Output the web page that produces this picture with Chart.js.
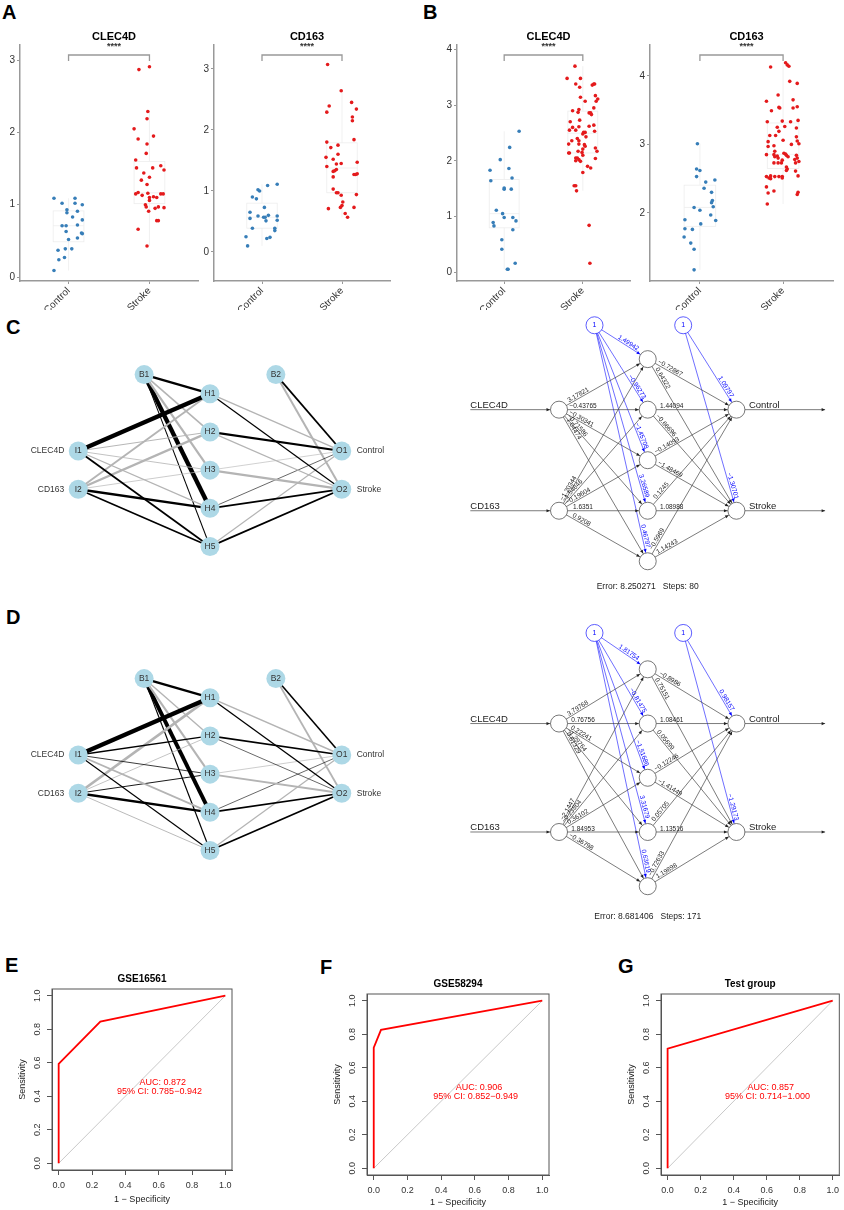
<!DOCTYPE html>
<html>
<head>
<meta charset="utf-8">
<script src="https://cdn.jsdelivr.net/npm/chart.js@4.4.0/dist/chart.umd.min.js"></script>
<style>
  body { margin: 0; background: #fff; width: 844px; height: 1210px; position: relative; overflow: hidden; font-family: "Liberation Sans", Arial, sans-serif; }
  canvas { position: absolute; }
  .tag { position: absolute; font-weight: bold; font-size: 20px; line-height: 20px; color: #000; }
</style>
</head>
<body>
<div class="tag" style="left:2px;top:2px">A</div>
<div class="tag" style="left:423px;top:2px">B</div>
<div class="tag" style="left:6px;top:317px">C</div>
<div class="tag" style="left:6px;top:607px">D</div>
<div class="tag" style="left:5px;top:955px">E</div>
<div class="tag" style="left:320px;top:957px">F</div>
<div class="tag" style="left:618px;top:956px">G</div>

<canvas id="a1" width="205" height="290" style="left:0;top:20px"></canvas>
<canvas id="a2" width="200" height="290" style="left:200px;top:20px"></canvas>
<canvas id="b1" width="200" height="290" style="left:440px;top:20px"></canvas>
<canvas id="b2" width="208" height="290" style="left:636px;top:20px"></canvas>
<canvas id="cNet" width="420" height="240" style="left:0;top:340px"></canvas>
<canvas id="cNn" width="404" height="310" style="left:440px;top:300px"></canvas>
<canvas id="dNet" width="420" height="240" style="left:0;top:644px"></canvas>
<canvas id="dNn" width="404" height="330" style="left:440px;top:610px"></canvas>
<canvas id="rocE" width="240" height="240" style="left:0;top:970px"></canvas>
<canvas id="rocF" width="242" height="235" style="left:315px;top:975px"></canvas>
<canvas id="rocG" width="235" height="235" style="left:609px;top:975px"></canvas>

<script>
// ---- expression strip plots: [x jitter, value] ----
const GROUPS = ['Control', 'Stroke'];
const GROUP_COLORS = ['#377eb8', '#e41a1c'];

const A_CLEC4D_CONTROL = [[-0.18,1.09],[-0.08,1.02],[-0.02,0.93],[-0.02,0.89],[0.08,1.09],[0.08,1.02],[0.17,1.00],[0.11,0.91],[0.05,0.83],[-0.08,0.71],[-0.03,0.71],[0.17,0.79],[0.11,0.72],[-0.03,0.63],[0.16,0.61],[0.17,0.60],[0.00,0.52],[0.11,0.54],[-0.04,0.39],[0.04,0.39],[-0.13,0.37],[-0.05,0.27],[-0.12,0.24],[-0.18,0.09]];
const A_CLEC4D_STROKE = [[-0.13,2.87],[0.00,2.91],[-0.02,2.29],[-0.03,2.19],[-0.19,2.05],[-0.14,1.91],[0.05,1.95],[-0.03,1.84],[-0.04,1.71],[-0.17,1.62],[-0.16,1.51],[0.04,1.51],[0.14,1.54],[0.18,1.48],[-0.07,1.44],[0.00,1.38],[-0.10,1.34],[-0.03,1.28],[-0.14,1.17],[-0.17,1.15],[-0.09,1.13],[-0.02,1.16],[0.05,1.11],[0.00,1.10],[0.09,1.10],[0.14,1.15],[0.17,1.15],[0.00,1.06],[-0.05,1.00],[-0.04,0.97],[-0.01,0.91],[0.07,0.95],[0.11,0.97],[0.18,0.96],[0.09,0.78],[0.11,0.78],[-0.14,0.66],[-0.03,0.43]];
const A_CD163_CONTROL = [[-0.05,1.02],[-0.03,1.00],[0.07,1.09],[0.19,1.11],[-0.12,0.90],[-0.07,0.87],[0.03,0.73],[-0.15,0.65],[-0.05,0.59],[0.02,0.57],[0.04,0.57],[0.08,0.60],[-0.15,0.55],[0.05,0.51],[0.19,0.59],[0.19,0.52],[-0.12,0.39],[0.16,0.39],[0.16,0.35],[-0.20,0.25],[0.06,0.22],[0.10,0.24],[-0.18,0.10]];
const A_CD163_STROKE = [[-0.18,3.07],[-0.01,2.64],[-0.16,2.39],[-0.19,2.29],[0.12,2.45],[0.18,2.34],[0.13,2.21],[0.13,2.15],[0.15,1.84],[-0.19,1.80],[-0.05,1.75],[-0.14,1.71],[-0.05,1.60],[-0.20,1.55],[-0.11,1.52],[-0.01,1.45],[-0.07,1.44],[-0.19,1.40],[0.19,1.47],[-0.07,1.35],[-0.09,1.33],[-0.11,1.32],[-0.11,1.23],[0.15,1.27],[0.17,1.27],[0.19,1.28],[-0.11,1.03],[-0.07,0.97],[-0.05,0.97],[-0.01,0.93],[0.18,0.94],[0.01,0.82],[-0.17,0.71],[-0.02,0.73],[0.00,0.76],[0.15,0.73],[0.04,0.63],[0.07,0.57]];
const B_CLEC4D_CONTROL = [[0.19,2.53],[-0.05,2.02],[0.07,2.24],[0.06,1.86],[-0.18,1.83],[0.10,1.69],[-0.17,1.64],[0.00,1.51],[0.00,1.49],[0.09,1.49],[-0.10,1.11],[-0.02,1.05],[-0.14,0.89],[-0.13,0.83],[0.00,0.98],[0.11,0.98],[0.15,0.92],[0.11,0.76],[-0.03,0.58],[-0.03,0.41],[0.14,0.16],[0.04,0.05],[0.05,0.05]];
const B_CLEC4D_STROKE = [[-0.10,3.70],[-0.20,3.48],[-0.03,3.48],[-0.09,3.38],[-0.04,3.32],[0.14,3.38],[0.15,3.38],[0.12,3.36],[0.16,3.17],[0.19,3.11],[0.17,3.07],[-0.03,3.14],[0.03,3.07],[0.14,2.95],[-0.13,2.90],[-0.05,2.92],[-0.06,2.87],[0.08,2.86],[0.11,2.83],[0.10,2.86],[-0.16,2.70],[-0.13,2.60],[-0.04,2.73],[-0.17,2.55],[-0.05,2.61],[-0.09,2.55],[0.08,2.62],[0.14,2.64],[0.01,2.51],[0.03,2.51],[0.00,2.48],[0.04,2.43],[0.15,2.53],[-0.07,2.40],[-0.14,2.36],[-0.05,2.36],[-0.18,2.30],[-0.05,2.30],[0.02,2.29],[0.03,2.26],[0.00,2.21],[0.16,2.23],[-0.01,2.15],[-0.06,2.17],[-0.18,2.14],[-0.17,2.14],[0.18,2.17],[-0.09,2.05],[-0.07,2.05],[0.00,2.10],[-0.05,2.02],[-0.09,2.00],[-0.03,1.99],[0.16,2.04],[0.06,1.90],[0.10,1.87],[0.00,1.79],[-0.11,1.55],[-0.09,1.55],[-0.08,1.46],[0.08,0.84],[0.09,0.16]];
const B_CD163_CONTROL = [[-0.03,3.01],[-0.04,2.64],[0.00,2.62],[-0.04,2.53],[0.18,2.48],[0.07,2.45],[0.05,2.36],[0.14,2.30],[0.15,2.18],[0.14,2.15],[-0.07,2.08],[0.16,2.09],[0.00,2.04],[-0.18,1.90],[0.19,1.89],[0.13,1.97],[0.01,1.84],[-0.18,1.77],[-0.09,1.76],[-0.11,1.56],[-0.19,1.65],[-0.07,1.47],[-0.07,1.17]];
const B_CD163_STROKE = [[0.03,4.19],[0.05,4.16],[0.07,4.14],[-0.15,4.13],[0.08,3.92],[0.17,3.89],[-0.06,3.72],[-0.20,3.63],[0.12,3.65],[-0.14,3.49],[-0.05,3.54],[-0.04,3.53],[0.12,3.53],[0.17,3.55],[-0.19,3.33],[-0.01,3.34],[0.09,3.33],[0.18,3.35],[-0.07,3.25],[0.02,3.26],[-0.05,3.19],[0.16,3.24],[-0.16,3.13],[-0.09,3.13],[0.16,3.11],[0.17,3.05],[0.19,3.01],[-0.18,3.04],[0.00,3.06],[-0.11,2.98],[-0.18,2.97],[0.10,3.00],[-0.10,2.90],[0.01,2.87],[0.03,2.86],[-0.20,2.85],[-0.11,2.85],[-0.07,2.83],[-0.10,2.82],[-0.06,2.80],[0.04,2.84],[0.06,2.82],[0.16,2.84],[0.17,2.80],[-0.01,2.77],[-0.06,2.73],[-0.02,2.73],[-0.11,2.73],[0.14,2.78],[0.15,2.73],[0.19,2.75],[0.04,2.67],[0.05,2.64],[0.04,2.62],[0.15,2.61],[-0.01,2.53],[-0.20,2.53],[-0.15,2.54],[-0.10,2.53],[-0.17,2.51],[-0.15,2.50],[-0.05,2.53],[-0.01,2.51],[0.18,2.54],[-0.20,2.38],[-0.18,2.29],[-0.11,2.32],[0.18,2.30],[0.17,2.27],[-0.19,2.13]];

const A_CLEC4D_TICKS = [0, 1, 2, 3];
const A_CD163_TICKS = [0, 1, 2, 3];
const B_CLEC4D_TICKS = [0, 1, 2, 3, 4];
const B_CD163_TICKS = [2, 3, 4];

// ---- neural networks: weights ----
const INPUTS = ['CLEC4D', 'CD163'];
const OUTPUTS = ['Control', 'Stroke'];
const HIDDEN_N = 5;

const C_IN_HID = [[3.17821, -0.43765, -0.30341, -0.71586, 1.04474], [-1.20344, -1.54846, -0.19604, 1.6351, 0.9208]];
const C_BIAS_HID = [1.49942, -0.96273, -1.45708, 3.26589, 0.46797];
const C_HID_OUT = [[-0.72867, 0.64322], [1.44094, -0.66696], [-0.14093, -1.48469], [0.1245, 1.08988], [-0.5969, 1.14243]];
const C_BIAS_OUT = [1.09797, -1.30701];
const C_ERROR = 'Error: 8.250271   Steps: 80';

const D_IN_HID = [[3.79768, 0.76756, 0.22241, -1.29764, 0.61329], [-2.1447, -0.23804, 0.36102, 1.84953, -0.36798]];
const D_BIAS_HID = [1.81754, -0.81475, -1.51686, 3.31679, 0.63619];
const D_HID_OUT = [[-0.8986, 0.75151], [1.08461, 0.05699], [-0.12246, -1.41449], [0.05705, 1.13516], [-0.72633, 1.19898]];
const D_BIAS_OUT = [0.98157, -1.29173];
const D_ERROR = 'Error: 8.681406   Steps: 171';

// ---- ROC curves ----
const ROC_TICKS = [0, 0.2, 0.4, 0.6, 0.8, 1];
const E_FPR = [0, 0, 0.25, 1];
const E_TPR = [0, 0.594, 0.845, 1];
const F_FPR = [0, 0, 0.043, 1];
const F_TPR = [0, 0.72, 0.826, 1];
const G_FPR = [0, 0, 1];
const G_TPR = [0, 0.714, 1];

const FONT = '"Liberation Sans", Arial, Helvetica, sans-serif';
Chart.defaults.font.family = FONT;
Chart.defaults.animation = false;
Chart.defaults.responsive = false;
Chart.defaults.plugins.legend.display = false;
Chart.defaults.plugins.tooltip.enabled = false;

function quantile(sorted, p) {
  const h = (sorted.length - 1) * p;
  const lo = Math.floor(h);
  const hi = Math.min(lo + 1, sorted.length - 1);
  return sorted[lo] + (h - lo) * (sorted[hi] - sorted[lo]);
}

function stripChart(id, gene, groups, ticks, yMin, yMax, yWidth, padRight) {
  const datasets = groups.map((pairs, g) => ({
    data: pairs.map(p => ({ x: g + 1 + p[0], y: p[1] })),
    backgroundColor: GROUP_COLORS[g],
    pointRadius: 1.8,
    pointBorderWidth: 0
  }));

  const decor = {
    id: 'stripDecor',
    beforeDatasetsDraw(chart) {
      const { ctx, scales: { x, y } } = chart;
      ctx.save();
      ctx.strokeStyle = '#ededed';
      ctx.lineWidth = 0.8;
      groups.forEach((pairs, g) => {
        const v = pairs.map(p => p[1]).sort((a, b) => a - b);
        const q1 = quantile(v, 0.25), q2 = quantile(v, 0.5), q3 = quantile(v, 0.75);
        const iqr = q3 - q1;
        const lo = v.find(d => d >= q1 - 1.5 * iqr);
        const hi = v.filter(d => d <= q3 + 1.5 * iqr).pop();
        const xl = x.getPixelForValue(g + 1 - 0.19), xr = x.getPixelForValue(g + 1 + 0.19);
        const xc = x.getPixelForValue(g + 1);
        ctx.strokeRect(xl, y.getPixelForValue(q3), xr - xl, y.getPixelForValue(q1) - y.getPixelForValue(q3));
        ctx.beginPath();
        ctx.moveTo(xl, y.getPixelForValue(q2)); ctx.lineTo(xr, y.getPixelForValue(q2));
        ctx.moveTo(xc, y.getPixelForValue(q3)); ctx.lineTo(xc, y.getPixelForValue(hi));
        ctx.moveTo(xc, y.getPixelForValue(q1)); ctx.lineTo(xc, y.getPixelForValue(lo));
        ctx.stroke();
      });
      ctx.restore();
    },
    afterDraw(chart) {
      const { ctx, chartArea: a, scales: { x } } = chart;
      const cx = (a.left + a.right) / 2 + 5;
      ctx.save();
      ctx.fillStyle = '#000';
      ctx.textAlign = 'center';
      ctx.textBaseline = 'middle';
      ctx.font = 'bold 11px ' + FONT;
      ctx.fillText(gene, cx, a.top - 8);
      ctx.fillStyle = '#333';
      ctx.font = 'bold 9px ' + FONT;
      ctx.fillText('****', cx, a.top + 2);
      const x1 = x.getPixelForValue(1), x2 = x.getPixelForValue(2);
      ctx.strokeStyle = '#999';
      ctx.lineWidth = 1.3;
      ctx.beginPath();
      ctx.moveTo(x1, a.top + 16); ctx.lineTo(x1, a.top + 10);
      ctx.lineTo(x2, a.top + 10); ctx.lineTo(x2, a.top + 16);
      ctx.stroke();
      ctx.restore();
    }
  };

  const axisGrid = { display: true, drawOnChartArea: false, drawTicks: true, tickLength: 3, color: '#999' };
  new Chart(document.getElementById(id), {
    type: 'scatter',
    data: { datasets },
    options: {
      layout: { padding: { top: 25, right: padRight, bottom: 0, left: 0 } },
      scales: {
        x: {
          type: 'linear', min: 0.4, max: 2.6,
          afterBuildTicks: s => { s.ticks = GROUPS.map((_, i) => ({ value: i + 1 })); },
          afterFit: s => { s.height = 29; },
          ticks: { callback: (v, i) => GROUPS[i], minRotation: 45, maxRotation: 45, color: '#333', font: { size: 10 }, padding: 1 },
          grid: axisGrid,
          border: { color: '#999', width: 1.5 }
        },
        y: {
          min: yMin, max: yMax,
          afterBuildTicks: s => { s.ticks = ticks.map(v => ({ value: v })); },
          afterFit: s => { s.width = yWidth; },
          ticks: { color: '#333', font: { size: 10 }, padding: 2 },
          grid: axisGrid,
          border: { color: '#999', width: 1.5 }
        }
      }
    },
    plugins: [decor]
  });
}

function netEdges(inHid, biasHid, hidOut, biasOut) {
  const e = [];
  inHid.forEach((row, i) => row.forEach((w, h) => e.push({ from: 'I' + (i + 1), to: 'H' + (h + 1), w })));
  biasHid.forEach((w, h) => e.push({ from: 'B1', to: 'H' + (h + 1), w, bias: true }));
  hidOut.forEach((row, h) => row.forEach((w, o) => e.push({ from: 'H' + (h + 1), to: 'O' + (o + 1), w })));
  biasOut.forEach((w, o) => e.push({ from: 'B2', to: 'O' + (o + 1), w, bias: true }));
  return e;
}

// node layout: layer on x, node index on y
function netLayout(ioSpacing, biasX, biasY) {
  const pos = {};
  const mid = (HIDDEN_N + 1) / 2;
  INPUTS.forEach((_, i) => { pos['I' + (i + 1)] = { x: 1, y: mid + (i - (INPUTS.length - 1) / 2) * ioSpacing }; });
  for (let h = 1; h <= HIDDEN_N; h++) pos['H' + h] = { x: 2, y: h };
  OUTPUTS.forEach((_, o) => { pos['O' + (o + 1)] = { x: 3, y: mid + (o - (OUTPUTS.length - 1) / 2) * ioSpacing }; });
  pos.B1 = { x: 1 + biasX, y: biasY };
  pos.B2 = { x: 2 + biasX, y: biasY };
  return pos;
}

const pt = p => ({ x: p.x, y: p.y });
const fmtW = w => (w < 0 ? '\u2212' : '') + Math.abs(w);

function plotnetChart(id, edges, yMin, yMax) {
  const pos = netLayout(1, 0.5, 0.5);
  const mags = edges.map(e => Math.abs(e.w));
  const lo = Math.min(...mags), hi = Math.max(...mags);
  const names = Object.keys(pos);
  const datasets = [{
    data: names.map(n => pt(pos[n])),
    pointRadius: 9.5, backgroundColor: '#add8e6', pointBorderWidth: 0, order: 0
  }];
  edges.forEach(e => datasets.push({
    data: [pt(pos[e.from]), pt(pos[e.to])],
    showLine: true, pointRadius: 0, order: 1,
    borderColor: e.w > 0 ? '#000' : '#b4b4b4',
    borderWidth: 0.6 + 3.8 * (Math.abs(e.w) - lo) / (hi - lo)
  }));

  const text = {
    id: 'netText',
    afterDatasetsDraw(chart) {
      const { ctx, scales: { x, y } } = chart;
      ctx.save();
      ctx.fillStyle = '#333';
      ctx.textBaseline = 'middle';
      ctx.textAlign = 'center';
      ctx.font = '8.5px ' + FONT;
      names.forEach(n => ctx.fillText(n, x.getPixelForValue(pos[n].x), y.getPixelForValue(pos[n].y)));
      ctx.textAlign = 'right';
      INPUTS.forEach((lab, i) => {
        const p = pos['I' + (i + 1)];
        ctx.fillText(lab, x.getPixelForValue(p.x) - 14, y.getPixelForValue(p.y));
      });
      ctx.textAlign = 'left';
      OUTPUTS.forEach((lab, o) => {
        const p = pos['O' + (o + 1)];
        ctx.fillText(lab, x.getPixelForValue(p.x) + 15, y.getPixelForValue(p.y));
      });
      ctx.restore();
    }
  };

  new Chart(document.getElementById(id), {
    type: 'scatter',
    data: { datasets },
    options: {
      layout: { padding: 0 },
      scales: {
        x: { display: false, min: 0.478, max: 3.522 },
        y: { display: false, reverse: true, min: yMin, max: yMax }
      }
    },
    plugins: [text]
  });
}

function nnChart(id, edges, yMin, yMax, errText) {
  const pos = netLayout(2, 0.4, 0.33);
  const R = 8.5;
  const lines = edges.map(e => ({ a: pos[e.from], b: pos[e.to], w: e.w, bias: e.bias }));
  INPUTS.forEach((_, i) => { const p = pos['I' + (i + 1)]; lines.push({ a: { x: 0, y: p.y }, b: p, io: true }); });
  OUTPUTS.forEach((_, o) => { const p = pos['O' + (o + 1)]; lines.push({ a: p, b: { x: 4, y: p.y }, io: true, out: true }); });

  const plain = Object.keys(pos).filter(n => n[0] !== 'B');
  const datasets = [
    { data: plain.map(n => pt(pos[n])), pointRadius: R, backgroundColor: '#fff', borderColor: '#555', pointBorderWidth: 0.8, order: 0 },
    { data: [pt(pos.B1), pt(pos.B2)], pointRadius: R, backgroundColor: '#fff', borderColor: '#3333ff', pointBorderWidth: 0.8, order: 0 }
  ];
  lines.forEach(l => datasets.push({
    data: [pt(l.a), pt(l.b)],
    showLine: true, pointRadius: 0, order: 1,
    borderColor: l.bias ? '#3030ff' : '#444', borderWidth: 0.7
  }));

  const text = {
    id: 'nnText',
    afterDatasetsDraw(chart) {
      const { ctx, chartArea: area, scales: { x, y } } = chart;
      ctx.save();
      lines.forEach(l => {
        const x0 = x.getPixelForValue(l.a.x), y0 = y.getPixelForValue(l.a.y);
        const x1 = x.getPixelForValue(l.b.x), y1 = y.getPixelForValue(l.b.y);
        const dx = x1 - x0, dy = y1 - y0, L = Math.hypot(dx, dy);
        const ux = dx / L, uy = dy / L;
        const col = l.bias ? '#0000ff' : '#222';
        // arrow head at target boundary
        const tip = l.out ? 0 : R + 0.5;
        const tx = x1 - ux * tip, ty = y1 - uy * tip;
        ctx.fillStyle = col;
        ctx.beginPath();
        ctx.moveTo(tx, ty);
        ctx.lineTo(tx - ux * 3.5 - uy * 1.6, ty - uy * 3.5 + ux * 1.6);
        ctx.lineTo(tx - ux * 3.5 + uy * 1.6, ty - uy * 3.5 - ux * 1.6);
        ctx.closePath();
        ctx.fill();
        if (l.io) return;
        const d = l.bias ? L - 25 : 24;
        ctx.save();
        ctx.translate(x0 + ux * d, y0 + uy * d);
        ctx.rotate(Math.atan2(dy, dx));
        ctx.font = '6.5px ' + FONT;
        ctx.textAlign = 'center';
        ctx.textBaseline = 'bottom';
        ctx.fillText(fmtW(l.w), 0, 0);
        ctx.restore();
      });
      ctx.font = '7px ' + FONT;
      ctx.fillStyle = '#0000ff';
      ctx.textAlign = 'center';
      ctx.textBaseline = 'middle';
      ['B1', 'B2'].forEach(n => ctx.fillText('1', x.getPixelForValue(pos[n].x), y.getPixelForValue(pos[n].y)));
      ctx.fillStyle = '#222';
      ctx.font = '9.5px ' + FONT;
      ctx.textAlign = 'left';
      ctx.textBaseline = 'alphabetic';
      INPUTS.forEach((lab, i) => ctx.fillText(lab, x.getPixelForValue(0), y.getPixelForValue(pos['I' + (i + 1)].y) - 2));
      OUTPUTS.forEach((lab, o) => ctx.fillText(lab, x.getPixelForValue(3) + R + 4, y.getPixelForValue(pos['O' + (o + 1)].y) - 2));
      ctx.font = '8.5px ' + FONT;
      ctx.textAlign = 'center';
      ctx.textBaseline = 'middle';
      ctx.fillText(errText, x.getPixelForValue(2), area.bottom - 14);
      ctx.restore();
    }
  };

  new Chart(document.getElementById(id), {
    type: 'scatter',
    data: { datasets },
    options: {
      layout: { padding: 0 },
      scales: {
        x: { display: false, min: -0.237, max: 4.108 },
        y: { display: false, reverse: true, min: yMin, max: yMax }
      }
    },
    plugins: [text]
  });
}

function rocChart(id, title, fpr, tpr, auc, ci, xHeight, xTitlePad, padRight) {
  const decor = {
    id: 'rocDecor',
    afterDraw(chart) {
      const { ctx, chartArea: a, scales: { x, y } } = chart;
      ctx.save();
      ctx.strokeStyle = '#555';
      ctx.lineWidth = 1;
      ctx.strokeRect(a.left, a.top, a.right - a.left, a.bottom - a.top);
      ctx.fillStyle = '#000';
      ctx.textAlign = 'center';
      ctx.textBaseline = 'middle';
      ctx.font = 'bold 10px ' + FONT;
      ctx.fillText(title, (a.left + a.right) / 2, a.top - 10);
      ctx.fillStyle = '#333';
      ctx.font = '9px ' + FONT;
      ROC_TICKS.forEach(v => {
        ctx.save();
        ctx.translate(a.left - 14, y.getPixelForValue(v));
        ctx.rotate(-Math.PI / 2);
        ctx.fillText(v.toFixed(1), 0, 0);
        ctx.restore();
      });
      ctx.fillStyle = '#ff0000';
      ctx.fillText('AUC: ' + auc, x.getPixelForValue(0.625), y.getPixelForValue(0.483));
      ctx.fillText('95% CI: ' + ci, x.getPixelForValue(0.605), y.getPixelForValue(0.43));
      ctx.restore();
    }
  };
  const grid = { display: true, drawOnChartArea: false, drawTicks: true, tickLength: 5, color: '#555' };
  new Chart(document.getElementById(id), {
    type: 'scatter',
    data: {
      datasets: [
        { data: fpr.map((v, i) => ({ x: v, y: tpr[i] })), showLine: true, borderColor: '#ff0000', borderWidth: 1.8, pointRadius: 0, order: 0 },
        { data: [{ x: 0, y: 0 }, { x: 1, y: 1 }], showLine: true, borderColor: '#c8c8c8', borderWidth: 1, pointRadius: 0, order: 1 }
      ]
    },
    options: {
      layout: { padding: { top: 19, right: padRight, bottom: 0, left: 0 } },
      scales: {
        x: {
          min: -0.04, max: 1.04,
          afterBuildTicks: s => { s.ticks = ROC_TICKS.map(v => ({ value: v })); },
          afterFit: s => { s.height = xHeight; },
          ticks: { callback: v => v.toFixed(1), color: '#333', font: { size: 9 }, padding: 5, maxRotation: 0 },
          grid, border: { color: '#555' },
          title: { display: true, text: '1 \u2212 Specificity', color: '#222', font: { size: 9 }, padding: { top: 0, bottom: xTitlePad } }
        },
        y: {
          min: -0.04, max: 1.04,
          afterBuildTicks: s => { s.ticks = ROC_TICKS.map(v => ({ value: v })); },
          afterFit: s => { s.width = 52; },
          ticks: { color: 'rgba(0,0,0,0)', font: { size: 9 } },
          grid, border: { color: '#555' },
          title: { display: true, text: 'Sensitivity', color: '#222', font: { size: 9 }, padding: { top: 17.6, bottom: 0 } }
        }
      }
    },
    plugins: [decor]
  });
}

stripChart('a1', 'CLEC4D', [A_CLEC4D_CONTROL, A_CLEC4D_STROKE], A_CLEC4D_TICKS, -0.055, 3.21, 20, 7);
stripChart('a2', 'CD163', [A_CD163_CONTROL, A_CD163_STROKE], A_CD163_TICKS, -0.475, 3.39, 14, 10);
stripChart('b1', 'CLEC4D', [B_CLEC4D_CONTROL, B_CLEC4D_STROKE], B_CLEC4D_TICKS, -0.16, 4.08, 17, 10);
stripChart('b2', 'CD163', [B_CD163_CONTROL, B_CD163_STROKE], B_CD163_TICKS, 1.007, 4.45, 14, 11);

const cEdges = netEdges(C_IN_HID, C_BIAS_HID, C_HID_OUT, C_BIAS_OUT);
const dEdges = netEdges(D_IN_HID, D_BIAS_HID, D_HID_OUT, D_BIAS_OUT);
plotnetChart('cNet', cEdges, -0.157, 5.627);
plotnetChart('dNet', dEdges, -0.157, 5.627);
nnChart('cNn', cEdges, 0.014, 5.78, C_ERROR);
nnChart('dNn', dEdges, 0.078, 5.82, D_ERROR);

rocChart('rocE', 'GSE16561', E_FPR, E_TPR, '0.872', '0.785\u22120.942', 40, 4.6, 8);
rocChart('rocF', 'GSE58294', F_FPR, F_TPR, '0.906', '0.852\u22120.949', 35, 1.6, 8);
rocChart('rocG', 'Test group', G_FPR, G_TPR, '0.857', '0.714\u22121.000', 35, 1.6, 1);
</script>
</body>
</html>
